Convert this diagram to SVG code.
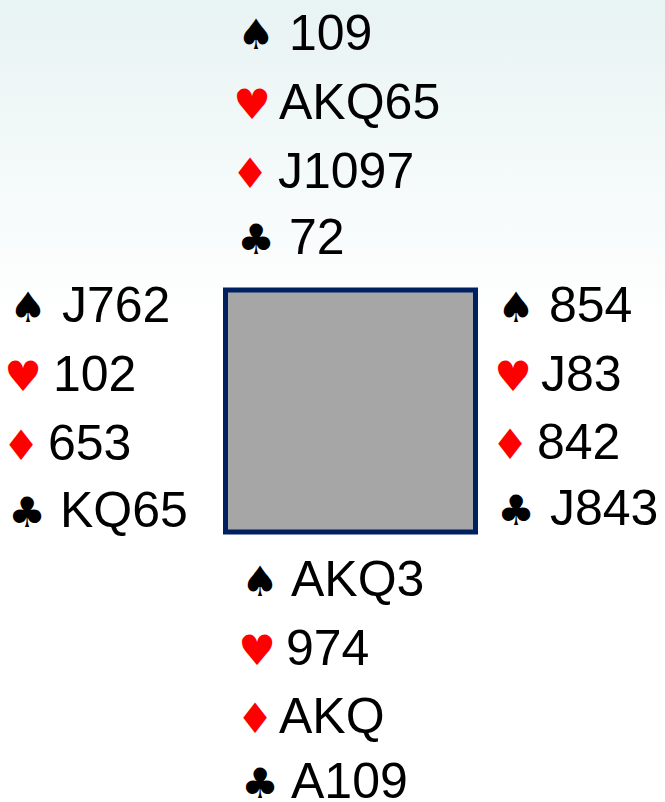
<svg xmlns="http://www.w3.org/2000/svg" width="665" height="802" viewBox="0 0 665 802">
<defs>
<linearGradient id="bg" x1="0" y1="0" x2="0" y2="1">
<stop offset="0" stop-color="#e8f3f3"/>
<stop offset="0.4" stop-color="#ffffff"/>
<stop offset="1" stop-color="#ffffff"/>
</linearGradient>
<style>
.t{font-family:"Liberation Sans",Arial,sans-serif;font-size:50px;fill:#000}
.s{font-family:"DejaVu Sans",sans-serif;font-size:42px;text-anchor:middle}
.b{fill:#000}
.r{fill:#ff0000}
</style>
</defs>
<rect width="665" height="802" fill="url(#bg)"/>
<g id="table">
<rect x="225.5" y="290" width="250" height="242" fill="#a6a6a6" stroke="#002060" stroke-width="5"/>
</g>
<g id="north">
<text class="s b" x="256" y="49">♠</text><text class="t" x="289" y="50">109</text>
<text class="s r" x="252" y="119">♥</text><text class="t" x="279" y="119">AKQ65</text>
<text class="s r" x="250" y="188">♦</text><text class="t" x="278" y="188">J1097</text>
<text class="s b" x="256" y="254">♣</text><text class="t" x="289" y="254">72</text>
</g>
<g id="west">
<text class="s b" x="28" y="322">♠</text><text class="t" x="62" y="322">J762</text>
<text class="s r" x="23" y="391">♥</text><text class="t" x="53" y="391">102</text>
<text class="s r" x="21" y="460">♦</text><text class="t" x="48" y="460">653</text>
<text class="s b" x="27" y="527">♣</text><text class="t" x="60" y="527">KQ65</text>
</g>
<g id="east">
<text class="s b" x="516" y="322">♠</text><text class="t" x="549" y="322">854</text>
<text class="s r" x="513" y="391">♥</text><text class="t" x="541" y="391">J83</text>
<text class="s r" x="510" y="459">♦</text><text class="t" x="537" y="459">842</text>
<text class="s b" x="516" y="525">♣</text><text class="t" x="550" y="525">J843</text>
</g>
<g id="south">
<text class="s b" x="260" y="596">♠</text><text class="t" x="291" y="596">AKQ3</text>
<text class="s r" x="257" y="665">♥</text><text class="t" x="286" y="665">974</text>
<text class="s r" x="255" y="733">♦</text><text class="t" x="279" y="733">AKQ</text>
<text class="s b" x="260" y="798">♣</text><text class="t" x="291" y="798">A109</text>
</g>
<g id="connectors"/>
</svg>
